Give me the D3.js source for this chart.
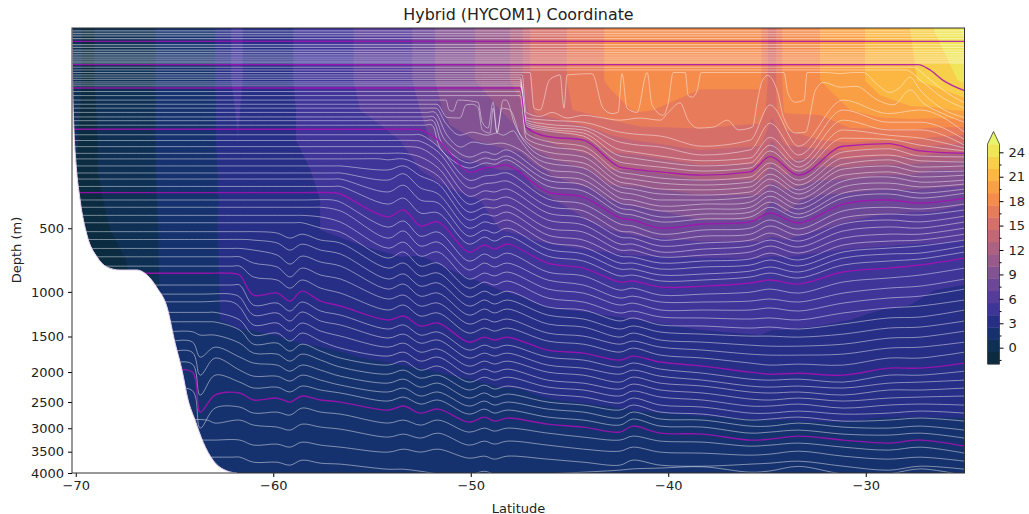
<!DOCTYPE html>
<html>
<head>
<meta charset="utf-8">
<script src="https://cdn.jsdelivr.net/npm/d3@7"></script>
<style>
body { margin: 0; background: #fff; }
svg { display: block; }
text { font-family: "DejaVu Sans", sans-serif; fill: #222; }
</style>
</head>
<body>
<div id="chart"></div>
<script>
// ------------------------------- axis values --------------------------------
var xTicks = [-70, -60, -50, -40, -30];
var yTicks = [500, 1000, 1500, 2000, 2500, 3000, 3500, 4000];
var cbarTicks = [0, 3, 6, 9, 12, 15, 18, 21, 24];
var cbarMinor = [-1.5, 1.5, 4.5, 7.5, 10.5, 13.5, 16.5, 19.5, 22.5];
var levels = [-2, -0.5, 1, 2.5, 4, 5.5, 7, 8.5, 10, 11.5, 13, 14.5, 16, 17.5, 19, 20.5, 22, 23.5, 25];
var bandColors = ["#0b2b40", "#0f3055", "#16326e", "#272e85", "#3f3498", "#563c9a", "#6c4797", "#825292", "#975a8a",
    "#ad6180", "#c36776", "#d76f69", "#e87b5a", "#f58c4c", "#faa044", "#fbb742", "#f8cf4a", "#f0e558"];
var overColor = "#e8f568";

// ------------------------------- bathymetry ---------------------------------
var bottomLat = [-70.19, -70.16, -70.09, -69.98, -69.78, -69.43, -68.92, -68.41, -67.76, -66.9, -66.39, -65.88, -65.38, -64.97, -64.62, -64.31, -63.96, -63.55, -63.05, -62.34, -61.83];
var bottomDepth = [3, 32, 107, 204, 346, 543, 698, 778, 802, 802, 845, 963, 1155, 1585, 1971, 2465, 2838, 3290, 3693, 3950, 4000];

// ------------------------------ temperature ---------------------------------
var fieldLat = [-70.19, -69.53, -68.26, -66.24, -65.73, -63.2, -62.69, -61.78, -61.17, -59.4, -58.85, -57.63, -55.6, -53.58, -52.57, -51.05, -48.52, -47.5, -46.74, -45.73, -43.96, -42.95, -41.43, -38.39, -35.35, -34.74, -34.09, -32.32, -30.8, -29.28, -27.76, -26.49, -25];
var fieldDepth = [3, 31, 69, 131, 221, 346, 511, 721, 983, 1299, 1680, 2128, 2647, 3246, 4000];
var temp0 = [0.3, -0.8, 0, 0.3, 1.6, 1.8, 3.2, 4.5, 3.2, 3.4, 4.2, 5, 5.6, 6.2, 7.5, 9.5, 10.5, 12.5, 15.5, 15.5, 17, 17.7, 18.5, 17.8, 17.8, 15, 18.2, 19, 20, 21, 22, 23.6, 25.3];
var temp1 = [0.3, -0.8, 0, 0.3, 1.6, 1.8, 3.2, 4.5, 3.2, 3.4, 4.2, 5, 5.6, 6.2, 7.5, 9.5, 10.5, 12.5, 15.5, 15.5, 17, 17.7, 18.5, 17.8, 17.8, 15, 18.2, 19, 20, 21, 21.8, 22.5, 23.8];
var temp2 = [0.2, -0.9, 0, 0.3, 1.6, 1.8, 3, 4.2, 3, 3.4, 4, 4.9, 5.5, 6, 7, 9, 10, 11, 15, 15.5, 16.5, 17, 17.7, 16.8, 16.8, 15, 17.8, 17.8, 19, 20, 20.3, 20.3, 20.7];
var temp3 = [0, -1, 0, 0.3, 1.6, 1.8, 3, 4, 2.9, 3.5, 4, 4.6, 5, 5.5, 6.5, 8, 9, 9.5, 11, 12, 13, 14, 14.6, 15.5, 15, 13, 15, 16, 16.5, 16, 16, 15.5, 15];
var temp4 = [-0.3, -1, 0, 0.3, 1.5, 1.7, 2.8, 3.4, 2.9, 3.3, 3.7, 4.2, 4.6, 5, 5.5, 6, 7, 7, 8, 9, 10, 11.5, 11.5, 12.5, 12.5, 11, 12, 11, 11, 10.5, 10.5, 10, 10];
var temp5 = [-0.3, -1, -0.3, 0.2, 1.4, 1.6, 2.7, 3, 2.9, 3.1, 3.5, 4, 4.3, 4.6, 4.8, 5.2, 5.7, 5.9, 6.4, 7, 7.5, 8.5, 8.8, 9.5, 9.5, 8.5, 9, 8, 7.7, 7.5, 7.5, 7.5, 7.2];
var temp6 = [-0.5, -1, -0.5, 0, 1.2, 1.7, 2.8, 3.2, 3.2, 3.5, 3.8, 4, 4.2, 4.8, 4.6, 5, 5.5, 5.7, 6, 6.3, 6.8, 7, 7.5, 8, 8, 7.5, 7.8, 7, 6.7, 6.5, 6.3, 6.2, 6];
var temp7 = [-0.7, -1, -0.7, -0.2, 1.2, 1.5, 2.7, 3, 3, 3.2, 3.4, 3.6, 3.8, 3.9, 3.9, 4.2, 4.4, 4.5, 4.6, 4.7, 4.9, 5, 5.2, 5.3, 5.4, 5.2, 5.3, 5, 4.8, 4.7, 4.6, 4.6, 4.5];
var temp8 = [-0.7, -0.7, -0.7, -0.3, 1.1, 1.5, 2.6, 2.8, 2.9, 3, 3, 3.1, 3.3, 3.4, 3.4, 3.6, 4, 4.1, 4.3, 4.5, 4.6, 4.7, 4.7, 4.8, 4.8, 4.7, 4.7, 4.5, 4.4, 4.2, 4.1, 4, 3.9];
var temp9 = [-0.5, -0.5, -0.5, 0, 1.1, 1.3, 2.5, 2.7, 2.7, 2.8, 2.8, 2.9, 3, 3.1, 3.1, 3.3, 3.5, 3.6, 3.6, 3.7, 3.8, 3.9, 4, 4.2, 4.3, 4.2, 4.2, 4.1, 4, 3.9, 3.9, 3.9, 3.8];
var temp10 = [1.1, 1.1, 1.1, 1.1, 1.2, 1.3, 1.6, 2, 2.1, 2.3, 2.4, 2.45, 2.6, 2.7, 2.8, 3, 3.1, 3.1, 3.2, 3.3, 3.4, 3.4, 3.5, 3.6, 3.7, 3.6, 3.6, 3.6, 3.5, 3.4, 3.4, 3.4, 3.4];
var temp11 = [1.2, 1.2, 1.2, 1.2, 1.2, 1.2, 1.3, 1.6, 1.7, 1.9, 1.9, 2, 2.2, 2.3, 2.3, 2.4, 2.6, 2.6, 2.7, 2.8, 2.9, 2.9, 3, 3, 3, 3, 3, 3, 2.9, 2.9, 2.9, 2.9, 2.9];
var temp12 = [1.2, 1.2, 1.2, 1.2, 1.2, 1.2, 1.2, 1.3, 1.4, 1.5, 1.6, 1.7, 1.8, 2, 2, 2.1, 2.2, 2.25, 2.3, 2.35, 2.4, 2.45, 2.52, 2.6, 2.7, 2.7, 2.7, 2.7, 2.7, 2.6, 2.6, 2.6, 2.6];
var temp13 = [1.5, 1.5, 1.5, 1.5, 1.5, 1.5, 1.5, 1.5, 1.5, 1.6, 1.6, 1.6, 1.7, 1.7, 1.8, 1.8, 1.9, 1.9, 1.9, 2, 2, 2, 2.1, 2.1, 2.1, 2.1, 2.1, 2.2, 2.2, 2.2, 2.2, 2.2, 2.2];
var temp14 = [1.6, 1.6, 1.6, 1.6, 1.6, 1.6, 1.6, 1.6, 1.6, 1.6, 1.6, 1.6, 1.6, 1.6, 1.6, 1.6, 1.6, 1.6, 1.6, 1.6, 1.6, 1.6, 1.6, 1.6, 1.6, 1.6, 1.6, 1.6, 1.6, 1.6, 1.6, 1.6, 1.6];
var fieldTemp = [temp0, temp1, temp2, temp3, temp4, temp5, temp6, temp7, temp8, temp9, temp10, temp11, temp12, temp13, temp14];

// ------------------------------ layer interfaces ----------------------------
// depth arrays line up with the END of latKnots, left of that the interface stays on its flat z-level
var latKnots = [-63.7, -62.95, -61.7, -61, -59.8, -59.15, -58.55, -57.6, -56.6, -54.2, -53.4, -52.55, -51.65, -50.1, -49.3, -48.8, -48.15, -46.1, -44.3, -42.45, -41.8, -40.4, -38.25, -35.85, -34.85, -33.4, -31.15, -28.85, -27.25, -25];
var upperLat = [-44.3, -42.45, -41.8, -40.4, -38.25, -35.85, -34.85, -33.4, -31.15, -28.85, -27.25, -25];
var dropLat = [-47.5, -47.2, -46.14];

var flatTop = [3.6, 4.25, 4.9, 5.7];
var flatA = [7.8, 8.9, 10.1, 11.2, 12.4, 13.6, 14.7, 15.9, 17];

// just under the surface, the mixed layer lines with their spikes
var m1Lat = [-27.6, -26.9, -26.1, -25];
var m1Depth = [20, 28, 41, 58];
var m2Lat = [-28, -27.1, -26.1, -25];
var m2Depth = [22, 33, 51, 66];
var p1Lat = [-27.35, -26.75, -26.08, -25];
var p1Depth = [18.2, 22, 31, 42];
var m3Lat = [-47, -46.8, -46.49, -46.03, -45.68, -45.48, -45.28, -45.12, -43.86, -43.3, -42.85, -42.54, -42.34, -42.09, -41.58, -41.07, -40.82, -40.26, -40, -39.75, -39.14, -38.99, -38.78, -38.53, -38.33, -34.14, -33.94, -33.58, -33.12, -32.97, -31.96, -31.3, -30.64, -30.13, -29.43, -28.77, -28.26, -27.76, -27.25, -26.23, -25];
var m3Depth = [24, 66, 69, 31, 27, 26, 66, 26, 25, 66, 75, 73, 25, 66, 73, 24, 61, 78, 58, 24, 24, 48, 50, 41, 24, 24, 45, 57, 54, 24, 24, 25, 24, 24, 35, 44, 38, 28, 41, 65, 82];
var m4Lat = [-47.4, -47.2, -46.49, -45.88, -45.12, -44.3, -43.45, -42.45, -41.43, -40.41, -40, -39.4, -38.99, -38.48, -37.72, -37, -36.45, -35.74, -35.48, -35.23, -34.97, -34.46, -34.16, -33.55, -33.05, -32.54, -32.13, -31.27, -30.51, -29.4, -28.6, -27.75, -27.1, -26.1, -25];
var m4Depth = [26, 73, 80, 73, 83, 78, 82, 87, 83, 87, 73, 58, 87, 103, 101, 87, 107, 101, 54, 31, 26.5, 44, 82, 114, 112, 41, 33, 38, 37, 54, 61, 41, 58, 75, 91];
var m5Depth = [28, 83, 87, 91, 112, 116, 121, 147, 131, 61, 147, 54, 75, 69, 112];
var m6Depth = [30, 87, 95, 101, 136, 142, 149, 172, 157, 93, 172, 69, 91, 91, 129];
var m7Depth = [32.5, 91, 101, 107, 157, 163, 175, 190, 181, 124, 194, 87, 107, 107, 144];
var m8Depth = [34.5, 95, 105, 114, 175, 181, 194, 207, 197, 144, 211, 107, 119, 126, 152];
var m9Depth = [36.5, 99, 109, 121, 194, 201, 211, 225, 214, 160, 225, 126, 129, 144, 160];
var p2Depth = [38.9, 101, 122, 131, 211, 218, 228, 240, 228, 177, 240, 147, 140, 160, 167];

// second stack, with the spikes between 52S and 47S
var c1Depth = [43, 114, 134, 147, 229, 236, 251, 259, 247, 197, 259, 163, 154, 175, 178];
var c2Depth = [48, 126, 147, 160, 247, 255, 271, 279, 267, 214, 279, 181, 172, 190, 194];
var c3Lat = [-51.25, -51.1, -50.9, -50.64, -49.63, -49.42, -49.12, -48.87, -48.67, -48.36, -48.21, -47.76, -47.1, -46.14];
var c3Depth = [54, 69, 71, 54, 57, 91, 103, 57, 112, 54, 54, 97, 139, 163, 178, 267, 275, 296, 300, 287, 236, 300, 201, 187, 211, 207];
var c4Lat = [-51.71, -51.2, -50.54, -50.24, -49.93, -49.63, -49.42, -49.02, -48.87, -48.67, -48.42, -48.01, -47.5, -47, -46.14];
var c4Depth = [60, 82, 83, 61, 60, 65, 107, 114, 66, 114, 66, 69, 119, 152, 181, 197, 287, 296, 318, 323, 309, 255, 318, 218, 207, 228, 225];
var c5Lat = [-51.76, -51.3, -50.54, -49.93, -49.17, -48.67, -48.36, -47.86, -47.5, -47, -46.14];
var c5Depth = [66, 91, 119, 112, 119, 114, 119, 109, 131, 166, 197, 214, 309, 318, 346, 346, 332, 279, 341, 240, 228, 247, 240];
var c6Lat = [-51.81, -51.2, -50.54, -49.93, -49.17, -48.36, -47.5, -46.14];
var c6Depth = [73, 119, 149, 136, 142, 139, 157, 218, 236, 337, 346, 376, 366, 356, 305, 366, 263, 247, 267, 259];
var c7Lat = [-51.86, -51.3, -50.14, -49.27, -48.77, -48.16, -46.14];
var c7Depth = [81, 131, 178, 163, 170, 157, 240, 259, 361, 371, 401, 391, 382, 328, 391, 287, 271, 287, 275];
var c8Lat = [-51.91, -51.4, -50.14, -49.27, -48.77, -48.16, -46.14];
var c8Depth = [88, 144, 197, 181, 187, 175, 259, 279, 386, 396, 434, 418, 407, 356, 418, 314, 296, 314, 296];
var c9Lat = [-51.96, -51.5, -50.14, -49.27, -48.77, -48.16, -46.14];
var c9Depth = [97, 157, 214, 197, 201, 187, 283, 305, 412, 423, 462, 445, 434, 382, 439, 337, 318, 337, 314];

var p3Depth = [107, 131, 229, 214, 211, 204, 309, 332, 439, 451, 499, 474, 462, 412, 468, 366, 346, 361, 337];
var flatC = [118, 132, 148, 167, 184, 207, 232, 255, 285];
var a1 = [118, 148, 259, 243, 240, 232, 341, 366, 474, 486, 537, 511, 499, 451, 505, 401, 382, 391, 366];
var a2 = [134, 163, 291, 274, 270, 263, 376, 401, 517, 524, 576, 550, 537, 486, 543, 439, 418, 423, 396];
var a3 = [148, 152, 187, 328, 304, 309, 296, 412, 439, 556, 563, 617, 596, 576, 530, 583, 474, 451, 462, 429];
var a4 = [167, 167, 178, 214, 366, 341, 346, 332, 451, 480, 603, 603, 660, 639, 617, 576, 624, 517, 492, 499, 462];
var a5 = [187, 181, 207, 243, 407, 382, 386, 371, 499, 524, 646, 646, 698, 683, 660, 617, 668, 563, 537, 537, 499];
var a6 = [207, 221, 204, 243, 274, 451, 418, 429, 407, 543, 576, 691, 698, 745, 729, 713, 668, 721, 610, 583, 576, 537];
var a7 = [232, 259, 235, 291, 318, 499, 462, 474, 451, 590, 624, 745, 745, 794, 777, 761, 721, 769, 660, 632, 617, 576];
var a8 = [255, 309, 280, 346, 361, 550, 511, 530, 499, 639, 675, 794, 794, 845, 836, 811, 777, 819, 706, 675, 668, 617];
var a9 = [285, 366, 337, 412, 412, 603, 556, 583, 550, 691, 729, 853, 845, 898, 889, 862, 828, 871, 761, 729, 713, 660];
var p4Depth = [318, 434, 396, 486, 462, 660, 610, 639, 603, 745, 786, 907, 898, 954, 945, 916, 889, 926, 819, 786, 761, 706];

var flatD = [346, 382, 425, 467, 521, 572, 634, 696, 770];
var w1 = [356, 493, 457, 550, 524, 729, 675, 706, 668, 819, 853, 983, 964, 1032, 1022, 1003, 973, 1012, 907, 871, 845, 786];
var w2 = [382, 401, 563, 517, 617, 590, 802, 745, 777, 745, 889, 935, 1061, 1042, 1102, 1102, 1092, 1071, 1102, 1012, 964, 945, 880];
var w3 = [425, 434, 463, 632, 590, 691, 660, 880, 828, 853, 819, 973, 1012, 1134, 1113, 1187, 1187, 1187, 1165, 1198, 1113, 1061, 1042, 973];
var w4 = [467, 498, 524, 706, 660, 769, 745, 964, 907, 935, 898, 1061, 1102, 1220, 1198, 1265, 1276, 1288, 1276, 1299, 1220, 1165, 1144, 1081];
var w5 = [521, 530, 563, 537, 576, 596, 786, 745, 853, 828, 1051, 993, 1032, 993, 1155, 1187, 1311, 1276, 1358, 1370, 1395, 1383, 1407, 1346, 1276, 1265, 1187];
var w6 = [576, 596, 646, 604, 646, 675, 880, 836, 945, 916, 1144, 1081, 1123, 1081, 1243, 1288, 1407, 1370, 1444, 1470, 1495, 1495, 1508, 1470, 1395, 1383, 1311];
var w7 = [634, 646, 683, 753, 691, 737, 769, 973, 926, 1042, 1012, 1243, 1176, 1220, 1176, 1346, 1383, 1508, 1457, 1546, 1573, 1613, 1626, 1626, 1600, 1521, 1508, 1432];
var w8 = [696, 745, 777, 862, 786, 845, 880, 1071, 1032, 1144, 1113, 1346, 1288, 1323, 1288, 1457, 1495, 1600, 1559, 1640, 1680, 1736, 1750, 1750, 1736, 1653, 1640, 1573];
var w9 = [770, 862, 889, 964, 889, 964, 1012, 1187, 1134, 1254, 1220, 1457, 1395, 1432, 1395, 1559, 1600, 1708, 1653, 1750, 1792, 1865, 1895, 1880, 1895, 1792, 1792, 1708];
var p5Depth = [845, 1032, 1012, 1092, 993, 1092, 1144, 1299, 1254, 1370, 1335, 1573, 1508, 1546, 1508, 1680, 1722, 1821, 1764, 1850, 1910, 2002, 2033, 2018, 2049, 1941, 1941, 1865];

var flatE = [935, 1022, 1100, 1213, 1320, 1440, 1570, 1710, 1880];
var b1 = [935, 1134, 1113, 1198, 1102, 1198, 1243, 1407, 1358, 1482, 1444, 1680, 1613, 1653, 1613, 1778, 1821, 1925, 1865, 1955, 2018, 2112, 2128, 2112, 2160, 2049, 2049, 1987];
var b2 = [1051, 1243, 1220, 1311, 1209, 1311, 1358, 1520, 1470, 1586, 1546, 1792, 1722, 1764, 1722, 1895, 1941, 2033, 1971, 2065, 2128, 2225, 2242, 2225, 2258, 2177, 2160, 2128];
var b3 = [1155, 1358, 1335, 1432, 1335, 1432, 1495, 1640, 1586, 1708, 1666, 1910, 1836, 1880, 1836, 2002, 2049, 2160, 2080, 2177, 2225, 2325, 2342, 2325, 2377, 2291, 2291, 2258];
var b4 = [1213, 1299, 1482, 1457, 1559, 1457, 1559, 1653, 1764, 1708, 1836, 1778, 2033, 1955, 2002, 1955, 2128, 2177, 2275, 2193, 2291, 2342, 2447, 2465, 2430, 2483, 2430, 2412, 2394];
var b5 = [1323, 1419, 1600, 1586, 1694, 1600, 1694, 1792, 1895, 1836, 1971, 1910, 2160, 2080, 2128, 2080, 2242, 2291, 2394, 2308, 2412, 2465, 2573, 2573, 2537, 2610, 2555, 2537, 2555];
var b6 = [1482, 1482, 1586, 1722, 1736, 1836, 1736, 1821, 1925, 2033, 1971, 2096, 2049, 2291, 2209, 2275, 2225, 2360, 2412, 2519, 2430, 2555, 2592, 2704, 2704, 2666, 2723, 2704, 2666, 2704];
var b7 = [1778, 1640, 1778, 1865, 1895, 1987, 1895, 1971, 2065, 2177, 2112, 2242, 2177, 2430, 2342, 2412, 2360, 2501, 2555, 2647, 2555, 2685, 2723, 2838, 2818, 2780, 2858, 2838, 2799, 2858];
var b8 = [2049, 1792, 1971, 2065, 2065, 2144, 2049, 2128, 2209, 2325, 2258, 2394, 2325, 2573, 2483, 2555, 2501, 2629, 2685, 2799, 2685, 2818, 2838, 2957, 2957, 2897, 2977, 2997, 2957, 3038];
var b9 = [2377, 2049, 2160, 2258, 2242, 2325, 2225, 2291, 2342, 2483, 2412, 2537, 2465, 2723, 2629, 2704, 2647, 2780, 2838, 2937, 2818, 2957, 2977, 3100, 3079, 3038, 3120, 3141, 3100, 3204];
var p6Depth = [2685, 2377, 2342, 2465, 2430, 2501, 2394, 2465, 2501, 2647, 2573, 2704, 2629, 2878, 2780, 2858, 2799, 2917, 2977, 3079, 2957, 3100, 3120, 3246, 3225, 3162, 3246, 3311, 3246, 3377];

var flatF = [2300, 2838, 3246, 3624];
var d1 = [2997, 2610, 2592, 2704, 2685, 2742, 2610, 2685, 2723, 2897, 2838, 2937, 2838, 3079, 2997, 3059, 2997, 3100, 3183, 3246, 3162, 3268, 3290, 3377, 3355, 3311, 3399, 3465, 3399, 3533];
var d2 = [2897, 2838, 2937, 2977, 3038, 2917, 2977, 3018, 3183, 3120, 3204, 3100, 3355, 3268, 3333, 3268, 3355, 3443, 3488, 3399, 3510, 3533, 3578, 3555, 3488, 3601, 3670, 3624, 3717];
var d3Line = [3246, 3162, 3355, 3333, 3399, 3290, 3355, 3399, 3510, 3443, 3510, 3443, 3647, 3601, 3670, 3601, 3670, 3741, 3811, 3693, 3811, 3835, 3787, 3764, 3717, 3835, 3932, 3835, 3908];
var d4 = [3624, 3741, 3741, 3811, 3693, 3764, 3787, 3908, 3908, 3957, 4020, 4050, 3957, 4030, 4050, 4020, 3980, 3930, 3900, 3880, 3850, 3980, 3950, 3840, 4020, 4020, 3900, 4060];

// ---------------------------- build interface list ---------------------------
var interfaces = [];
var knots = function(arr) { return latKnots.slice(-arr.length); };
var addLine = function(flat, lat, depth, purple, spiky) {
    interfaces.push({flat: flat, lat: lat, depth: depth, purple: !!purple, spiky: !!spiky});
};

flatTop.forEach(function(d) { addLine(d, [], []); });
addLine(6.6, [], [], true);
flatA.forEach(function(d) { addLine(d, [], []); });
addLine(18.2, p1Lat, p1Depth, true, true);
addLine(20, m1Lat, m1Depth, false, true);
addLine(22, m2Lat, m2Depth, false, true);
addLine(24, m3Lat, m3Depth, false, true);
addLine(26, m4Lat, m4Depth, false, true);
[m5Depth, m6Depth, m7Depth, m8Depth, m9Depth].forEach(function(d) { addLine(d[0], dropLat.concat(upperLat), d, false, true); });
addLine(38.9, dropLat.concat(upperLat), p2Depth, true, true);
addLine(43, dropLat.concat(upperLat), c1Depth, false, true);
addLine(48, dropLat.concat(upperLat), c2Depth, false, true);
addLine(54, c3Lat.concat(upperLat), c3Depth, false, true);
addLine(60, c4Lat.concat(upperLat), c4Depth, false, true);
addLine(66, c5Lat.concat(upperLat), c5Depth, false, true);
addLine(73, c6Lat.concat(upperLat), c6Depth);
addLine(81, c7Lat.concat(upperLat), c7Depth);
addLine(88, c8Lat.concat(upperLat), c8Depth);
addLine(97, c9Lat.concat(upperLat), c9Depth);
addLine(105.7, knots(p3Depth), p3Depth, true);
[a1, a2, a3, a4, a5, a6, a7, a8, a9].forEach(function(d, i) { addLine(flatC[i], knots(d), d); });
addLine(312, knots(p4Depth), p4Depth, true);
[w1, w2, w3, w4, w5, w6, w7, w8, w9].forEach(function(d, i) { addLine(flatD[i], knots(d), d); });
addLine(830, knots(p5Depth), p5Depth, true);
[b1, b2, b3, b4, b5, b6, b7, b8, b9].forEach(function(d, i) { addLine(flatE[i], knots(d), d); });
addLine(2000, knots(p6Depth), p6Depth, true);
[d1, d2, d3Line, d4].forEach(function(d, i) { addLine(flatF[i], knots(d), d); });

// ------------------------------- svg and scales -------------------------------
var width = 1029;
var height = 514;
var svg = d3.select("#chart").append("svg").attr("width", width).attr("height", height);

var x = d3.scaleLinear().domain([-70.19, -25]).range([72, 964.5]);
var y = d3.scalePow().exponent(1 / 3).domain([3, 4000]).range([28, 473]);

svg.append("clipPath").attr("id", "plotclip").append("rect")
    .attr("x", x.range()[0]).attr("y", y.range()[0])
    .attr("width", x.range()[1] - x.range()[0]).attr("height", y.range()[1] - y.range()[0]);
var plot = svg.append("g").attr("clip-path", "url(#plotclip)");

// ------------------------------- filled contours -----------------------------
var nCols = fieldLat.length;
var nRows = fieldDepth.length;
var colToX = d3.scaleLinear().domain(d3.range(nCols)).range(fieldLat.map(function(d) { return x(d); })).clamp(true);
var rowToY = d3.scaleLinear().domain(d3.range(nRows)).range(fieldDepth.map(function(d) { return y(d); })).clamp(true);
var gridPath = d3.geoPath(d3.geoTransform({
    point: function(px, py) { this.stream.point(colToX(px - 0.5), rowToY(py - 0.5)); }
}));
var contours = d3.contours().size([nCols, nRows]).thresholds(levels.concat([100]))(d3.merge(fieldTemp));

plot.append("rect")
    .attr("x", x.range()[0]).attr("y", y.range()[0])
    .attr("width", x.range()[1] - x.range()[0]).attr("height", y.range()[1] - y.range()[0])
    .attr("fill", bandColors[0]);

plot.selectAll("path.band")
    .data(contours)
    .join("path")
    .attr("class", "band")
    .attr("d", gridPath)
    .attr("fill", function(d, i) { return i < bandColors.length ? bandColors[i] : overColor; });

// ------------------------------- layer interfaces ----------------------------
var smoothLine = d3.line()
    .x(function(d) { return x(d[0]); })
    .y(function(d) { return y(d[1]); })
    .curve(d3.curveCatmullRom.alpha(0.5));

var spikyLine = d3.line()
    .x(function(d) { return x(d[0]); })
    .y(function(d) { return y(d[1]); })
    .curve(d3.curveMonotoneX);

var interfacePoints = function(d) {
    var pts = [[-70.19, d.flat]];
    if (d.lat.length == 0) {
        pts.push([-25, d.flat]);
        return pts;
    }
    // stay on the z-level right up to the first knot, the curve would sag otherwise
    pts.push([d.lat[0] - 2, d.flat]);
    pts.push([d.lat[0] - 0.4, d.flat]);
    d.lat.forEach(function(lat, i) {
        pts.push([lat, Math.max(d.flat, d.depth[i])]);
    });
    return pts;
};

var interfacePath = function(d) {
    return (d.spiky ? spikyLine : smoothLine)(interfacePoints(d));
};

plot.selectAll("path.layer")
    .data(interfaces.filter(function(d) { return !d.purple; }))
    .join("path")
    .attr("class", "layer")
    .attr("d", interfacePath)
    .attr("fill", "none")
    .attr("stroke", "#fff")
    .attr("stroke-opacity", 0.45)
    .attr("stroke-width", function(d) { return d.lat.length == 0 ? 1.3 : 1; });

plot.selectAll("path.major")
    .data(interfaces.filter(function(d) { return d.purple; }))
    .join("path")
    .attr("class", "major")
    .attr("d", interfacePath)
    .attr("fill", "none")
    .attr("stroke", "#a810b4")
    .attr("stroke-opacity", 0.85)
    .attr("stroke-width", 1.4);

// ------------------------------- bathymetry mask -----------------------------
var bottomPts = bottomLat.map(function(d, i) { return [d, bottomDepth[i]]; });
var bottomArea = d3.area()
    .x(function(d) { return x(d[0]); })
    .y0(y(4000) + 2)
    .y1(function(d) { return y(d[1]); })
    .curve(d3.curveMonotoneX);

plot.append("path")
    .attr("d", bottomArea(bottomPts))
    .attr("fill", "#fff");

plot.append("path")
    .attr("d", spikyLine(bottomPts))
    .attr("fill", "none")
    .attr("stroke", "#ecd2f0")
    .attr("stroke-width", 1);

// ------------------------------- axes and frame -------------------------------
var minus = function(d) { return d < 0 ? "\u2212" + Math.abs(d) : d; };

svg.append("g")
    .attr("transform", "translate(0," + y.range()[1] + ")")
    .call(d3.axisBottom(x).tickValues(xTicks).tickFormat(minus).tickSize(4).tickPadding(4).tickSizeOuter(0))
    .call(function(g) { g.select(".domain").remove(); })
    .selectAll("text").style("font-size", "13px");

svg.append("g")
    .attr("transform", "translate(" + x.range()[0] + ",0)")
    .call(d3.axisLeft(y).tickValues(yTicks).tickFormat(function(d) { return d; }).tickSize(4).tickPadding(4).tickSizeOuter(0))
    .call(function(g) { g.select(".domain").remove(); })
    .selectAll("text").style("font-size", "13px");

svg.append("rect")
    .attr("x", x.range()[0]).attr("y", y.range()[0])
    .attr("width", x.range()[1] - x.range()[0]).attr("height", y.range()[1] - y.range()[0])
    .attr("fill", "none")
    .attr("stroke", "#333")
    .attr("stroke-width", 1);

svg.append("text")
    .attr("x", 518.5).attr("y", 20)
    .style("text-anchor", "middle").style("font-size", "15.9px")
    .text("Hybrid (HYCOM1) Coordinate");

svg.append("text")
    .attr("x", 518.5).attr("y", 512.5)
    .style("text-anchor", "middle").style("font-size", "13px")
    .text("Latitude");

svg.append("text")
    .attr("transform", "translate(21,250) rotate(-90)")
    .style("text-anchor", "middle").style("font-size", "13px")
    .text("Depth (m)");

// ------------------------------- colour bar -----------------------------------
var barLeft = 987.5;
var barWidth = 12;
var yBar = d3.scaleLinear().domain([0, 24]).range([347.7, 152.3]);

svg.selectAll("rect.cbar")
    .data(bandColors)
    .join("rect")
    .attr("class", "cbar")
    .attr("x", barLeft).attr("width", barWidth)
    .attr("y", function(d, i) { return yBar(levels[i + 1]); })
    .attr("height", function(d, i) { return yBar(levels[i]) - yBar(levels[i + 1]) + 0.4; })
    .attr("fill", function(d) { return d; });

var arrowBase = yBar(levels[levels.length - 1]);
svg.append("path")
    .attr("d", "M" + barLeft + "," + arrowBase + "L" + (barLeft + barWidth / 2) + ",131.5L" + (barLeft + barWidth) + "," + arrowBase + "Z")
    .attr("fill", overColor);

svg.append("path")
    .attr("d", "M" + barLeft + "," + yBar(levels[0]) + "V" + arrowBase + "L" + (barLeft + barWidth / 2) + ",131.5L" + (barLeft + barWidth) + "," + arrowBase + "V" + yBar(levels[0]) + "Z")
    .attr("fill", "none")
    .attr("stroke", "#333")
    .attr("stroke-width", 0.8);

svg.append("g")
    .attr("transform", "translate(" + (barLeft + barWidth) + ",0)")
    .call(d3.axisRight(yBar).tickValues(cbarTicks).tickSize(4).tickPadding(5).tickSizeOuter(0))
    .call(function(g) { g.select(".domain").remove(); })
    .selectAll("text").style("font-size", "13px");

svg.append("g")
    .attr("transform", "translate(" + (barLeft + barWidth) + ",0)")
    .call(d3.axisRight(yBar).tickValues(cbarMinor).tickFormat("").tickSize(2).tickSizeOuter(0))
    .call(function(g) { g.select(".domain").remove(); });
</script>
</body>
</html>
